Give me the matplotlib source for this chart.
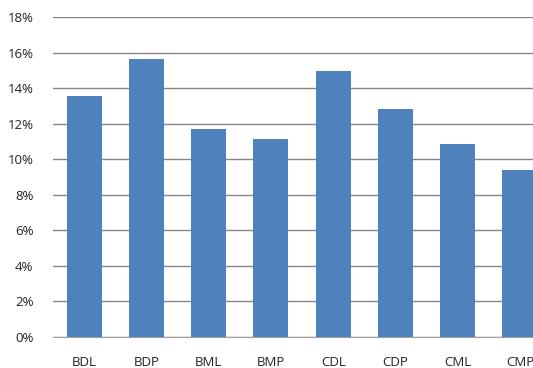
import numpy as np
import matplotlib.pyplot as plt
from matplotlib.ticker import FuncFormatter

categories = ['BDL', 'BDP', 'BML', 'BMP', 'CDL', 'CDP', 'CML', 'CMP']
values = [13.55, 15.63, 11.68, 11.14, 14.97, 12.82, 10.88, 9.40]  # percent

plt.rcParams['font.family'] = ['Open Sans', 'DejaVu Sans']

fig = plt.figure(figsize=(5.33, 3.68), dpi=100)
W, H = 533, 368
# axes extends past the right edge, the original picture is cropped
ax = fig.add_axes([53 / W, (H - 337) / H, (551 - 53) / W, 320 / H])

x = np.arange(len(categories))
ax.bar(x, values, width=0.565, color='#4F81BD', zorder=3)

ax.set_xlim(-0.5, len(categories) - 0.5)
ax.set_ylim(0, 18)
ax.set_yticks(np.arange(0, 19, 2))
ax.yaxis.set_major_formatter(FuncFormatter(lambda v, p: f'{v:.0f}%'))
ax.set_xticks(x)
ax.set_xticklabels(categories)

ax.grid(axis='y', color='#868686', linewidth=1, zorder=0)
for s in ['top', 'right', 'left']:
    ax.spines[s].set_visible(False)
ax.spines['bottom'].set_color('#A0A0A0')
ax.spines['bottom'].set_zorder(4)
ax.tick_params(axis='both', length=0, labelsize=9.5, colors='#222222')
ax.tick_params(axis='y', pad=14)
ax.tick_params(axis='x', pad=14)

fig.savefig('out.png', dpi=100)
